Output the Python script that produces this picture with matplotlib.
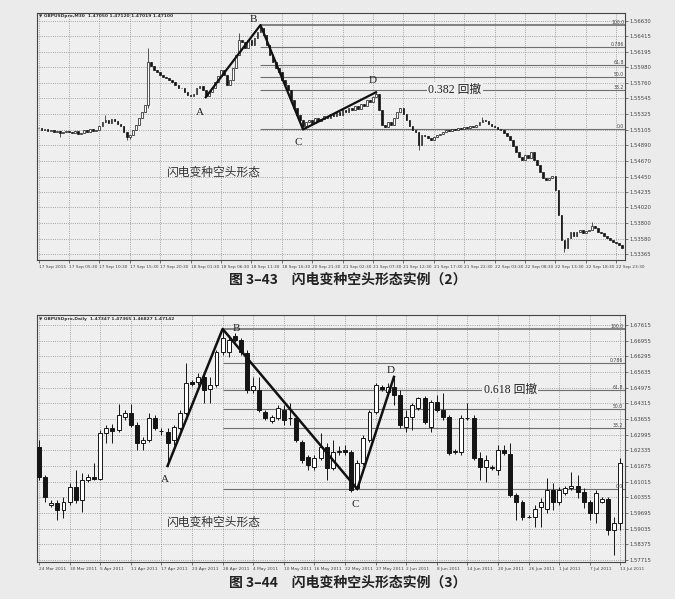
import numpy as np
import matplotlib.pyplot as plt

PAGE = "#ebebeb"
CJK = ["Noto Sans CJK SC", "DejaVu Sans"]
SERIF = ["Liberation Serif", "Noto Sans CJK SC"]

# ---- chart 1: GBPUSD M30 (closes, open = previous close) ----
top_close = [
    1.5513, 1.5510, 1.5511, 1.5509, 1.5510, 1.5507, 1.5509, 1.5506, 1.5507, 1.5509,
    1.5507, 1.5506, 1.5509, 1.5504, 1.5506, 1.5510, 1.5507, 1.5511, 1.5509, 1.5510,
    1.5516, 1.5521, 1.5524, 1.5520, 1.5525, 1.5523, 1.5518, 1.5516,
    1.5507, 1.5500, 1.5503, 1.5510,
    1.5517, 1.5527, 1.5535, 1.5545,
    1.5605,
    1.5600, 1.5594, 1.5591, 1.5587, 1.5584, 1.5583, 1.5580, 1.5577, 1.5573, 1.5569,
    1.5569, 1.5563, 1.5559, 1.5558, 1.5560, 1.5569, 1.5572, 1.5566, 1.5558,
    1.5563, 1.5569, 1.5577, 1.5586, 1.5594, 1.5587, 1.5573, 1.5580, 1.5597, 1.5615,
    1.5636, 1.5633, 1.5625, 1.5636, 1.5629, 1.5639, 1.5647, 1.5653,
    1.5643, 1.5629, 1.5615, 1.5605, 1.5597, 1.5591, 1.5580, 1.5573, 1.5566, 1.5552,
    1.5541, 1.5531, 1.5524, 1.5516,
    1.5521, 1.5524, 1.5520, 1.5527, 1.5523, 1.5525, 1.5530, 1.5527, 1.5532, 1.5530,
    1.5535, 1.5531, 1.5538, 1.5535, 1.5541, 1.5538, 1.5544, 1.5539, 1.5546, 1.5544,
    1.5552, 1.5549, 1.5556, 1.5560,
    1.5538, 1.5517, 1.5514, 1.5521, 1.5517,
    1.5527, 1.5535, 1.5541, 1.5532,
    1.5524, 1.5516, 1.5510, 1.5507,
    1.5489, 1.5503,
    1.5502, 1.5499, 1.5496, 1.5500, 1.5503,
    1.5504, 1.5507, 1.5510, 1.5509, 1.5511, 1.5510, 1.5513, 1.5511, 1.5514, 1.5513,
    1.5516, 1.5514, 1.5517,
    1.5521, 1.5524, 1.5523, 1.5518,
    1.5516, 1.5514, 1.5511, 1.5510, 1.5506, 1.5502,
    1.5496, 1.5488, 1.5479, 1.5472,
    1.5468, 1.5475, 1.5471, 1.5479, 1.5468,
    1.5461, 1.5451, 1.5443, 1.5440,
    1.5443, 1.5446,
    1.5426, 1.5391,
    1.5356, 1.5345, 1.5359, 1.5367,
    1.5362, 1.5367, 1.5370, 1.5366, 1.5369, 1.5371, 1.5376, 1.5373,
    1.5367, 1.5366, 1.5362, 1.5359, 1.5356, 1.5354, 1.5352, 1.5350, 1.5345,
]
# visible wick extremes of single bars
top_high_marks = {22: 1.5531, 36: 1.5625, 66: 1.5646, 73: 1.5657, 111: 1.5563,
                  146: 1.5528, 182: 1.5381}
top_low_marks = {7: 1.5500, 29: 1.5496, 30: 1.5497, 36: 1.5541, 55: 1.5556,
                 87: 1.5511, 125: 1.5482, 173: 1.5339}
top_zz_idx = [55, 73, 87, 111]
top_zz_px = [1.5556, 1.5657, 1.5511, 1.5563]
top_xlabels = ["17 Sep 2015", "17 Sep 05:30", "17 Sep 10:30", "17 Sep 15:30",
               "17 Sep 20:30", "18 Sep 01:30", "18 Sep 06:30", "18 Sep 11:30",
               "18 Sep 16:30", "20 Sep 21:30", "21 Sep 02:30", "21 Sep 07:30",
               "21 Sep 12:30", "21 Sep 17:30", "21 Sep 22:30", "22 Sep 03:30",
               "22 Sep 08:30", "22 Sep 13:30", "22 Sep 18:30", "22 Sep 23:30"]
top_yticks = [1.56630, 1.56415, 1.56195, 1.55980, 1.55760, 1.55545, 1.55325, 1.55105,
              1.54890, 1.54670, 1.54450, 1.54235, 1.54020, 1.53800, 1.53580, 1.53365]

# ---- chart 2: GBPUSD Daily ----
bot_open = [1.6248, 1.6122, 1.6004, 1.6012, 1.5983, 1.6016, 1.6080, 1.6025, 1.6109, 1.6122,
            1.6113, 1.6307, 1.6328, 1.6320, 1.6374, 1.6391, 1.6341, 1.6265, 1.6277, 1.6370,
            1.6315, 1.6311, 1.6277, 1.6328, 1.6391, 1.6522, 1.6522, 1.6543, 1.6492, 1.6509,
            1.6648, 1.6648, 1.6715, 1.6698, 1.6644, 1.6488, 1.6488, 1.6395, 1.6357, 1.6370,
            1.6404, 1.6370, 1.6370, 1.6269, 1.6206, 1.6164, 1.6202, 1.6248, 1.6160, 1.6227,
            1.6235, 1.6227, 1.6075, 1.6181, 1.6277, 1.6395, 1.6501, 1.6480, 1.6501, 1.6467,
            1.6332, 1.6374, 1.6412, 1.6454, 1.6332, 1.6437, 1.6404, 1.6374, 1.6227, 1.6227,
            1.6370, 1.6370, 1.6202, 1.6164, 1.6160, 1.6151, 1.6235, 1.6219, 1.6046, 1.6016,
            1.5953, 1.5953, 1.5995, 1.5987, 1.6067, 1.6016, 1.6054, 1.6075, 1.6084, 1.6059,
            1.6016, 1.5970, 1.6016, 1.6029, 1.5899, 1.5928]
bot_close = [1.6122, 1.6037, 1.6012, 1.5983, 1.6016, 1.6080, 1.6025, 1.6109, 1.6122, 1.6113,
             1.6307, 1.6328, 1.6315, 1.6383, 1.6391, 1.6341, 1.6265, 1.6277, 1.6370, 1.6328,
             1.6317, 1.6265, 1.6332, 1.6391, 1.6517, 1.6513, 1.6543, 1.6488, 1.6509, 1.6648,
             1.6707, 1.6698, 1.6698, 1.6648, 1.6488, 1.6505, 1.6404, 1.6370, 1.6374, 1.6412,
             1.6362, 1.6372, 1.6277, 1.6193, 1.6172, 1.6202, 1.6248, 1.6160, 1.6227, 1.6231,
             1.6227, 1.6067, 1.6181, 1.6286, 1.6395, 1.6509, 1.6492, 1.6501, 1.6467, 1.6341,
             1.6374, 1.6425, 1.6454, 1.6353, 1.6437, 1.6404, 1.6374, 1.6223, 1.6229, 1.6370,
             1.6372, 1.6202, 1.6164, 1.6193, 1.6162, 1.6235, 1.6223, 1.6046, 1.6016, 1.5953,
             1.5955, 1.5987, 1.6016, 1.6067, 1.6016, 1.6067, 1.6075, 1.6084, 1.6059, 1.6016,
             1.5970, 1.6054, 1.6029, 1.5899, 1.5928, 1.6181]
bot_high = [1.6277, 1.6130, 1.6025, 1.6025, 1.6037, 1.6096, 1.6151, 1.6138, 1.6134, 1.6181,
            1.6320, 1.6341, 1.6345, 1.6430, 1.6404, 1.6430, 1.6353, 1.6290, 1.6391, 1.6383,
            1.6328, 1.6328, 1.6341, 1.6404, 1.6602, 1.6530, 1.6560, 1.6551, 1.6543, 1.6656,
            1.6745, 1.6719, 1.6728, 1.6707, 1.6656, 1.6543, 1.6543, 1.6404, 1.6383, 1.6425,
            1.6425, 1.6433, 1.6383, 1.6277, 1.6214, 1.6214, 1.6307, 1.6265, 1.6277, 1.6252,
            1.6256, 1.6235, 1.6193, 1.6298, 1.6404, 1.6517, 1.6509, 1.6517, 1.6543, 1.6488,
            1.6404, 1.6433, 1.6459, 1.6463, 1.6446, 1.6467, 1.6475, 1.6383, 1.6240, 1.6383,
            1.6433, 1.6383, 1.6227, 1.6214, 1.6172, 1.6256, 1.6256, 1.6265, 1.6054, 1.6025,
            1.5962, 1.6004, 1.6033, 1.6117, 1.6096, 1.6080, 1.6084, 1.6143, 1.6130, 1.6075,
            1.6025, 1.6067, 1.6037, 1.6037, 1.5953, 1.6202]
bot_low = [1.6109, 1.6016, 1.5995, 1.5941, 1.5949, 1.6004, 1.6012, 1.5974, 1.6101, 1.6109,
           1.6109, 1.6265, 1.6265, 1.6311, 1.6362, 1.6332, 1.6235, 1.6235, 1.6269, 1.6320,
           1.6298, 1.6168, 1.6256, 1.6320, 1.6383, 1.6505, 1.6509, 1.6433, 1.6433, 1.6501,
           1.6635, 1.6627, 1.6690, 1.6635, 1.6475, 1.6475, 1.6395, 1.6362, 1.6349, 1.6362,
           1.6341, 1.6341, 1.6269, 1.6181, 1.6151, 1.6151, 1.6193, 1.6109, 1.6151, 1.6214,
           1.6214, 1.6059, 1.6067, 1.6172, 1.6269, 1.6387, 1.6484, 1.6467, 1.6425, 1.6328,
           1.6311, 1.6320, 1.6404, 1.6345, 1.6311, 1.6395, 1.6362, 1.6214, 1.6219, 1.6214,
           1.6362, 1.6193, 1.6109, 1.6101, 1.6151, 1.6130, 1.6214, 1.6037, 1.5941, 1.5941,
           1.5949, 1.5911, 1.5911, 1.5970, 1.5983, 1.6004, 1.6046, 1.6067, 1.6033, 1.5991,
           1.5941, 1.5928, 1.6012, 1.5878, 1.5793, 1.5899]
bot_zz_idx = [21, 30, 52, 58]
bot_zz_px = [1.6168, 1.6745, 1.6071, 1.6543]
bot_xlabels = ["24 Mar 2011", "30 Mar 2011", "5 Apr 2011", "11 Apr 2011", "17 Apr 2011",
               "23 Apr 2011", "28 Apr 2011", "4 May 2011", "10 May 2011", "16 May 2011",
               "22 May 2011", "27 May 2011", "2 Jun 2011", "8 Jun 2011", "14 Jun 2011",
               "20 Jun 2011", "26 Jun 2011", "1 Jul 2011", "7 Jul 2011", "13 Jul 2011"]
bot_yticks = [1.67615, 1.66955, 1.66295, 1.65635, 1.64975, 1.64315, 1.63655, 1.62995,
              1.62335, 1.61675, 1.61015, 1.60355, 1.59695, 1.59035, 1.58375, 1.57715]

fib_ratios = [0.0, 0.382, 0.5, 0.618, 0.786, 1.0]
fib_names = ["0.0", "38.2", "50.0", "61.8", "0.786", "100.0"]


def draw_candles(ax, opens, closes, highs, lows, width, lw):
    x = np.arange(len(closes))
    o = np.array(opens)
    c = np.array(closes)
    ax.vlines(x, lows, highs, color="#151515", lw=lw, zorder=2)
    up = c >= o
    ax.bar(x[up], (c - o)[up], width, bottom=o[up], color="white",
           edgecolor="#151515", lw=lw, zorder=3)
    ax.bar(x[~up], (o - c)[~up], width, bottom=c[~up], color="#151515",
           edgecolor="#151515", lw=lw, zorder=3)


def style_axis(ax, xstep, xlabels, yticks, xlim, ylim, header):
    ax.set_facecolor("#efefef")
    ax.set_xlim(*xlim)
    ax.set_ylim(*ylim)
    ax.set_xticks(np.arange(len(xlabels)) * xstep)
    ax.set_xticklabels(xlabels, fontsize=3.1, ha="left", color="#333")
    ax.set_yticks(yticks)
    ax.set_yticklabels(["%.5f" % v for v in yticks], fontsize=3.8, color="#333")
    ax.yaxis.tick_right()
    ax.tick_params(length=2, width=0.5, pad=1.5, colors="#444")
    ax.grid(True, ls=":", lw=0.6, color="#8a8a8a")
    ax.set_axisbelow(True)
    for s in ax.spines.values():
        s.set_color("#444")
        s.set_linewidth(0.8)
    ax.text(0.004, 0.993, header, transform=ax.transAxes, fontsize=3.2,
            va="top", ha="left", fontweight="bold", color="#333")


def draw_fibo(ax, start, lo, hi, xmax):
    for r, name in zip(fib_ratios, fib_names):
        lvl = lo + r * (hi - lo)
        ax.hlines(lvl, start, xmax, color="#6f6f6f", lw=1.2 if r == 1.0 else 0.8, zorder=1.5)
        ax.text(xmax - 0.3, lvl, name, fontsize=3.3, ha="right", va="bottom", color="#444")
    return lo + 0.382 * (hi - lo), lo + 0.618 * (hi - lo)


fig = plt.figure(figsize=(6.75, 5.99), dpi=100, facecolor=PAGE)

# ---------------- top chart ----------------
ax1 = fig.add_axes([37 / 675, 1 - 260 / 599, 588 / 675, 247.3 / 599])
top_open = [top_close[0]] + top_close[:-1]
top_high = [max(o, c) for o, c in zip(top_open, top_close)]
top_low = [min(o, c) for o, c in zip(top_open, top_close)]
for i, v in top_high_marks.items():
    top_high[i] = v
for i, v in top_low_marks.items():
    top_low[i] = v
style_axis(ax1, 10, top_xlabels, top_yticks, (-0.5, 192.9), (1.53285, 1.56742),
           "\u25bc GBPUSDpro,M30  1.47050 1.47120 1.47019 1.47100")
draw_candles(ax1, top_open, top_close, top_high, top_low, 0.55, 0.5)
f382, _ = draw_fibo(ax1, top_zz_idx[1], top_zz_px[2], top_zz_px[1], 192.9)
ax1.plot(top_zz_idx, top_zz_px, color="#111", lw=1.6, zorder=4)
for lab, xx, yy in [("A", 53.1, 1.5535), ("B", 70.6, 1.5664), ("C", 85.4, 1.5493), ("D", 110, 1.5580)]:
    ax1.text(xx, yy, lab, fontsize=8, ha="center", va="center", family=SERIF, color="#222")
ax1.text(137, f382, "0.382 回撤", fontsize=8.5, ha="center", va="center", family=SERIF,
         color="#222", zorder=5, bbox=dict(fc="#efefef", ec="none", pad=1))
ax1.text(57.4, 1.5451, "闪电变种空头形态", fontsize=8.5, ha="center", va="center",
         family=CJK, color="#333")

# ---------------- bottom chart ----------------
ax2 = fig.add_axes([37 / 675, 1 - 562 / 599, 588 / 675, 247 / 599])
style_axis(ax2, 5, bot_xlabels, bot_yticks, (-0.33, 95.75), (1.57637, 1.68036),
           "\u25bc GBPUSDpro,Daily  1.47347 1.47365 1.46827 1.47142")
draw_candles(ax2, bot_open, bot_close, bot_high, bot_low, 0.65, 0.7)
_, f618 = draw_fibo(ax2, bot_zz_idx[1], bot_zz_px[2], bot_zz_px[1], 95.75)
ax2.plot(bot_zz_idx, bot_zz_px, color="#111", lw=1.8, zorder=4)
for lab, xx, yy in [("A", 20.6, 1.6109), ("B", 32.2, 1.6745), ("C", 51.6, 1.6004), ("D", 57.4, 1.6572)]:
    ax2.text(xx, yy, lab, fontsize=8, ha="center", va="center", family=SERIF, color="#222")
ax2.text(77, f618, "0.618 回撤", fontsize=8.5, ha="center", va="center", family=SERIF,
         color="#222", zorder=5, bbox=dict(fc="#efefef", ec="none", pad=1))
ax2.text(28.4, 1.5932, "闪电变种空头形态", fontsize=8.5, ha="center", va="center",
         family=CJK, color="#333")

fig.text(348 / 675, 1 - 280 / 599, "图 3–43　闪电变种空头形态实例（2）", fontsize=10,
         fontweight="bold", ha="center", va="center", family=CJK, color="#222")
fig.text(348 / 675, 1 - 583 / 599, "图 3–44　闪电变种空头形态实例（3）", fontsize=10,
         fontweight="bold", ha="center", va="center", family=CJK, color="#222")

fig.savefig("out.png", dpi=100, facecolor=PAGE)
